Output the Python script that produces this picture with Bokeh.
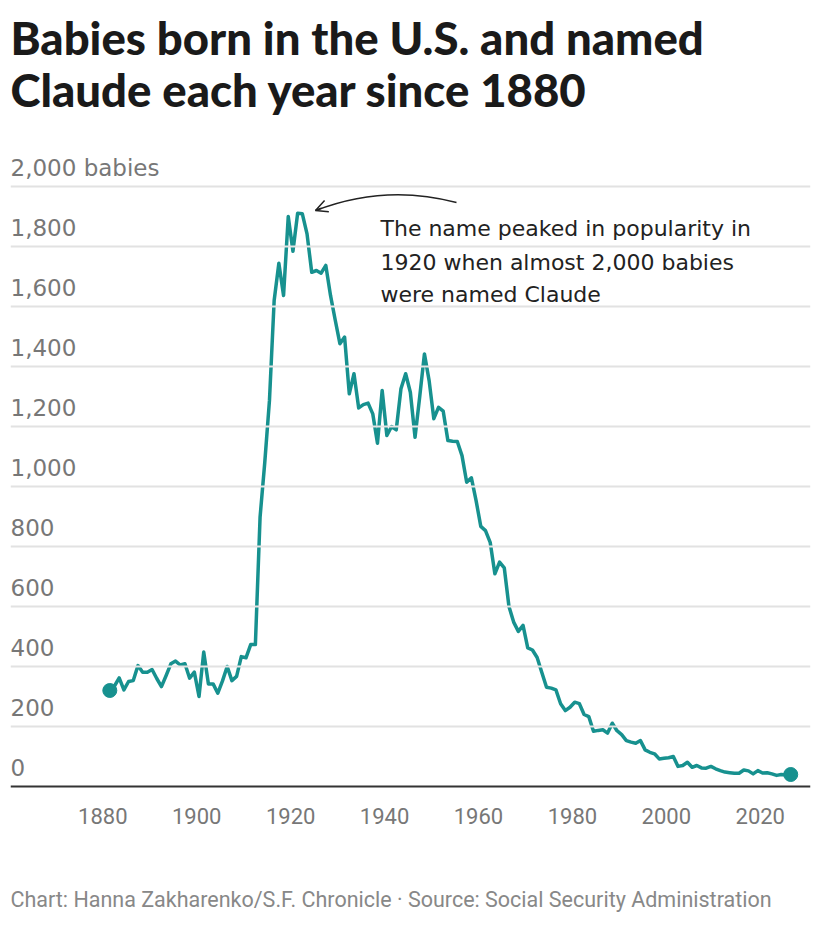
from bokeh.plotting import figure
from bokeh.models import Range1d, Span, Arrow, OpenHead
from bokeh.core.properties import value
from bokeh.embed import file_html
from bokeh.resources import INLINE

# ---------------- data ----------------
years = list(range(1880, 2026))
babies = [
    320, 335, 362, 322, 350, 353, 403, 381, 381, 390,   # 1880s
    360, 333, 370, 409, 418, 405, 409, 361, 381, 300,   # 1890s
    448, 342, 342, 311, 352, 400, 353, 367, 433, 429,   # 1900s
    473, 473, 898, 1080, 1287, 1620, 1744, 1637, 1900, 1784,  # 1910s
    1911, 1909, 1842, 1714, 1720, 1711, 1737, 1637, 1555, 1476,  # 1920s
    1498, 1309, 1376, 1262, 1273, 1278, 1242, 1144, 1320, 1170,  # 1930s
    1200, 1189, 1326, 1376, 1314, 1164, 1300, 1442, 1353, 1226,  # 1940s
    1264, 1251, 1153, 1151, 1150, 1103, 1014, 1029, 953, 867,    # 1950s
    853, 814, 709, 748, 729, 600, 548, 517, 537, 462,            # 1960s
    455, 430, 380, 331, 328, 322, 276, 253, 264, 281,            # 1970s
    276, 240, 233, 184, 187, 189, 178, 211, 186, 173,            # 1980s
    153, 148, 144, 153, 122, 114, 109, 92, 94, 96,               # 1990s
    100, 67, 70, 81, 64, 70, 62, 61, 67, 59,                     # 2000s
    53, 48, 46, 44, 44, 55, 52, 42, 53, 45,                      # 2010s
    46, 42, 37, 40, 38, 40,                                      # 2020s
]

y_ticks = [0, 200, 400, 600, 800, 1000, 1200, 1400, 1600, 1800, 2000]
y_tick_labels = ["0", "200", "400", "600", "800", "1,000", "1,200",
                 "1,400", "1,600", "1,800", "2,000 babies"]
x_ticks = [1880, 1900, 1920, 1940, 1960, 1980, 2000, 2020]
x_tick_labels = ["1880", "1900", "1920", "1940", "1960", "1980", "2000", "2020"]

title_lines = ["Babies born in the U.S. and named",
               "Claude each year since 1880"]
note_lines = ["The name peaked in popularity in",
              "1920 when almost 2,000 babies",
              "were named Claude"]
footer = "Chart: Hanna Zakharenko/S.F. Chronicle \u00b7 Source: Social Security Administration"

# ---------------- layout (pixels) ----------------
W, H = 820, 926
LEFT, RIGHT = 10, 810
X0_PX, PX_PER_YEAR = 109.3, 4.696
BASE_PX, PX_PER_UNIT = 786.0, 0.3


def xd(px):
    return 1880 + (px - X0_PX) / PX_PER_YEAR


def yd(py):
    return (BASE_PX - py) / PX_PER_UNIT


TEAL = "#17918f"
GRAY = "#777777"
DARK = "#222222"

p = figure(width=W, height=H,
           x_range=Range1d(xd(LEFT), xd(RIGHT)),
           y_range=Range1d(yd(H), yd(0)),
           output_backend="svg", toolbar_location=None,
           x_axis_location=None, y_axis_location=None,
           min_border_left=LEFT, min_border_right=W - RIGHT,
           min_border_top=0, min_border_bottom=0,
           outline_line_color=None,
           background_fill_color="white", border_fill_color="white")
for g in p.grid:
    g.visible = False

# gridlines
for t in y_ticks[1:]:
    p.add_layout(Span(location=t, dimension="width",
                      line_color="#e2e2e2", line_width=2))
# baseline
p.add_layout(Span(location=0, dimension="width",
                  line_color="#333333", line_width=2))

# y labels
p.text(x=[xd(LEFT)] * len(y_ticks), y=y_ticks, text=y_tick_labels,
       text_align="left", text_baseline="alphabetic", y_offset=-19,
       text_font=value("DejaVu Sans"), text_font_size="23px", text_color=GRAY)

# x labels
p.text(x=x_ticks, y=[0] * len(x_ticks), text=x_tick_labels,
       text_align="center", text_baseline="alphabetic",
       x_offset=-7, y_offset=29,
       text_font=value("Roboto"), text_font_size="22px", text_color=GRAY)

# data line
p.line(years, babies, line_color=TEAL, line_width=3.5, line_join="round")
p.scatter([years[0], years[-1]], [babies[0], babies[-1]],
          size=14, fill_color=TEAL, line_color=TEAL)

# title
p.text(x=[xd(LEFT)] * 2, y=[yd(37), yd(89)], text=title_lines,
       text_align="left", text_baseline="alphabetic",
       text_font=value("Lato Black, Lato"), text_font_style="bold",
       text_font_size="45.5px", text_color="#1a1a1a")

# annotation text
p.text(x=[xd(380)] * 3, y=[yd(227.5), yd(262), yd(294)], text=note_lines,
       text_align="left", text_baseline="alphabetic",
       text_font=value("DejaVu Sans"), text_font_size="22px", text_color=DARK)

# annotation arrow
p.quadratic(x0=[xd(456)], y0=[yd(202)], x1=[xd(315)], y1=[yd(210)],
            cx=[xd(385)], cy=[yd(183)], line_color=DARK, line_width=1.5)
p.add_layout(Arrow(end=OpenHead(size=12, line_color=DARK, line_width=1.5),
                   x_start=xd(321), y_start=yd(207.7),
                   x_end=xd(315), y_end=yd(210),
                   line_color=DARK, line_width=1.5))

# footer
p.text(x=[xd(LEFT)], y=[yd(899)], text=[footer],
       text_align="left", text_baseline="alphabetic",
       text_font=value("Roboto"), text_font_size="21.5px", text_color="#888888")

open("out.html", "w").write(file_html(p, INLINE))
